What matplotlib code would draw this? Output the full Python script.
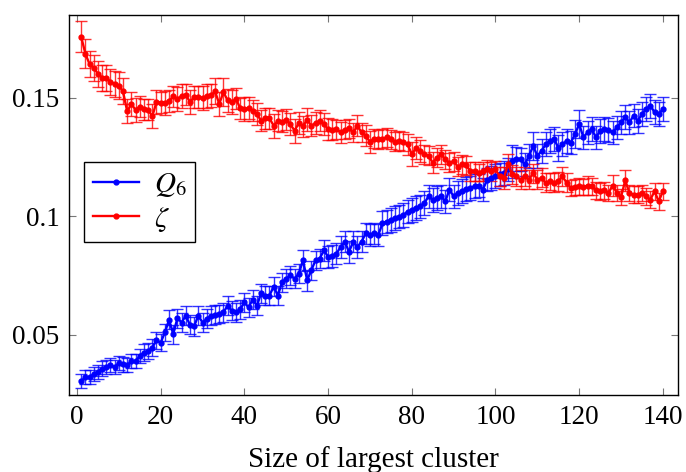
import numpy as np
import matplotlib
matplotlib.use('Agg')
import matplotlib.pyplot as plt
from matplotlib.lines import Line2D

plt.rcParams['font.family'] = ['Liberation Serif', 'DejaVu Serif']
plt.rcParams['mathtext.fontset'] = 'stix'

# cluster size (x) for both series
size = np.arange(1, 141)

# Q6 (blue)
q6 = [0.0304, 0.0321, 0.0321, 0.0335, 0.0344, 0.0358, 0.0364, 0.0372, 0.0364, 0.0382,
      0.0375, 0.0372, 0.0389, 0.0389, 0.0411, 0.0425, 0.0432, 0.0446, 0.0477, 0.0467,
      0.0510, 0.0563, 0.0503, 0.0571, 0.0552, 0.0581, 0.0542, 0.0537, 0.0581, 0.0552,
      0.0567, 0.0581, 0.0584, 0.0588, 0.0595, 0.0623, 0.0602, 0.0595, 0.0609, 0.0637,
      0.0616, 0.0649, 0.0623, 0.0676, 0.0666, 0.0666, 0.0704, 0.0666, 0.0722, 0.0737,
      0.0751, 0.0737, 0.0758, 0.0815, 0.0730, 0.0772, 0.0815, 0.0822, 0.0857, 0.0829,
      0.0832, 0.0843, 0.0871, 0.0893, 0.0850, 0.0893, 0.0871, 0.0893, 0.0929, 0.0921,
      0.0929, 0.0921, 0.0971, 0.0978, 0.0985, 0.0992, 0.0999, 0.1006, 0.1020, 0.1028,
      0.1035, 0.1042, 0.1056, 0.1084, 0.1070, 0.1077, 0.1084, 0.1063, 0.1113, 0.1084,
      0.1099, 0.1106, 0.1116, 0.1120, 0.1127, 0.1130, 0.1113, 0.1155, 0.1162, 0.1169,
      0.1177, 0.1184, 0.1198, 0.1233, 0.1243, 0.1240, 0.1219, 0.1255, 0.1297, 0.1255,
      0.1276, 0.1304, 0.1318, 0.1326, 0.1290, 0.1304, 0.1318, 0.1311, 0.1347, 0.1389,
      0.1333, 0.1354, 0.1368, 0.1333, 0.1361, 0.1368, 0.1365, 0.1354, 0.1375, 0.1396,
      0.1418, 0.1396, 0.1425, 0.1403, 0.1432, 0.1453, 0.1467, 0.1439, 0.1432, 0.1453]
q6_err = [3, 3, 3, 3, 3, 3, 3, 3, 3, 3,
          3, 3, 3, 3, 3, 3.5, 3.5, 3.5, 3.5, 3.5,
          3.5, 4, 4, 4, 4, 4, 4, 4, 4, 4,
          4, 4, 4, 4, 4, 4, 4, 4, 4, 4,
          4, 4, 4, 4, 4, 4, 4, 4, 4, 4,
          4, 4, 4, 4.5, 4.5, 4, 4, 4, 4.5, 4.5,
          4.5, 4.5, 4.5, 4.5, 4.5, 4.5, 4.5, 4.5, 4.5, 4.5,
          4.5, 4.5, 5, 5, 5, 5, 5, 5, 5, 5,
          5, 5, 5, 5, 5, 5, 5, 5, 5, 5,
          5, 5, 5, 5, 5, 5, 5, 5, 5, 5,
          5, 5, 5, 7, 5, 5, 5, 5, 6, 5,
          5, 5, 5, 5, 5.5, 5, 5, 5, 6, 6,
          5, 5, 5, 5, 5, 5, 5, 5, 5, 5,
          5, 5, 5, 5, 5, 5, 5, 5, 5, 5]

# zeta (red)
zeta = [0.1758, 0.1687, 0.1642, 0.1626, 0.1602, 0.1585, 0.1585, 0.1567, 0.1560, 0.1552,
        0.1527, 0.1443, 0.1474, 0.1449, 0.1463, 0.1452, 0.1450, 0.1422, 0.1482, 0.1480,
        0.1479, 0.1486, 0.1506, 0.1496, 0.1507, 0.1513, 0.1482, 0.1503, 0.1503, 0.1500,
        0.1507, 0.1510, 0.1527, 0.1474, 0.1524, 0.1489, 0.1482, 0.1496, 0.1456, 0.1453,
        0.1457, 0.1446, 0.1432, 0.1403, 0.1414, 0.1414, 0.1382, 0.1403, 0.1399, 0.1408,
        0.1389, 0.1361, 0.1394, 0.1380, 0.1408, 0.1382, 0.1394, 0.1403, 0.1389, 0.1368,
        0.1365, 0.1368, 0.1354, 0.1365, 0.1371, 0.1354, 0.1382, 0.1354, 0.1340, 0.1314,
        0.1328, 0.1326, 0.1328, 0.1333, 0.1326, 0.1314, 0.1318, 0.1314, 0.1304, 0.1262,
        0.1288, 0.1276, 0.1262, 0.1255, 0.1226, 0.1248, 0.1262, 0.1240, 0.1226, 0.1233,
        0.1209, 0.1219, 0.1215, 0.1191, 0.1191, 0.1184, 0.1191, 0.1198, 0.1191, 0.1198,
        0.1169, 0.1162, 0.1219, 0.1177, 0.1169, 0.1155, 0.1169, 0.1155, 0.1182, 0.1155,
        0.1162, 0.1141, 0.1148, 0.1141, 0.1148, 0.1169, 0.1141, 0.1120, 0.1124, 0.1127,
        0.1124, 0.1130, 0.1127, 0.1110, 0.1106, 0.1110, 0.1099, 0.1130, 0.1099, 0.1082,
        0.1152, 0.1099, 0.1091, 0.1091, 0.1099, 0.1084, 0.1070, 0.1106, 0.1063, 0.1106]
zeta_err = [6.5, 6, 5.5, 5.5, 5.5, 5.5, 5.5, 5.5, 5.5, 5.5,
            5.5, 5, 5, 5, 4.5, 4.5, 4.5, 5, 5, 4.5,
            5, 4.5, 4.5, 5, 5, 4.5, 5, 4.5, 4.5, 5,
            5, 5, 5.5, 5, 6, 5, 5, 4.5, 4.5, 5,
            4.5, 4.5, 4.5, 4.5, 4.5, 4.5, 5, 4.5, 4.5, 4.5,
            4.5, 5, 4.5, 4.5, 5, 4.5, 4.5, 4.5, 4.5, 4.5,
            4.5, 4, 4.5, 4, 4, 4, 4.5, 4, 4.5, 4.5,
            4, 4, 4, 4, 4, 4, 4, 4, 4.5, 5,
            4.5, 4.5, 4, 4, 4.5, 4, 4, 4, 4, 4,
            4, 4, 4, 4, 4, 3.5, 4, 4, 4, 3.5,
            4, 4.5, 4.5, 4, 4, 4, 4, 4, 4, 4,
            4, 4, 3.5, 4, 4, 4, 4, 3.5, 3.5, 3.5,
            3.5, 4, 3.5, 3.5, 3.5, 3.5, 3.5, 4.5, 3.5, 3.5,
            4.5, 3.5, 3.5, 3.5, 3.5, 3.5, 3.5, 3.5, 3.5, 3.5]

q6_err = np.array(q6_err) * 1e-3
zeta_err = np.array(zeta_err) * 1e-3

fig = plt.figure(figsize=(6.86, 4.72), dpi=100)
ax = fig.add_axes([0.1006, 0.163, 0.8877, 0.8055])

ax.errorbar(size, q6, yerr=q6_err, fmt='-o', color='#0000ff', ms=3.5, lw=1.7,
            ecolor=(0, 0, 1, 0.8), elinewidth=1, capsize=4.2, capthick=1)
ax.errorbar(size, zeta, yerr=zeta_err, fmt='-o', color='#ff0000', ms=3.5, lw=1.7,
            ecolor=(1, 0, 0, 0.8), elinewidth=1, capsize=4.2, capthick=1)

ax.set_xlim(-1.9, 143.6)
ax.set_ylim(0.0246, 0.185)
ax.set_xticks([0, 20, 40, 60, 80, 100, 120, 140])
ax.set_yticks([0.05, 0.1, 0.15])
ax.set_yticklabels(['0.05', '0.1', '0.15'])
ax.tick_params(direction='in', top=True, right=True, length=5, width=0.8,
               color='#777777', labelsize=19.5, pad=7)
for s in ax.spines.values():
    s.set_linewidth(1.0)

ax.set_xlabel('Size of largest cluster', fontsize=21, labelpad=12)

handles = [Line2D([], [], color='#0000ff', lw=1.7, marker='o', ms=3.5),
           Line2D([], [], color='#ff0000', lw=1.7, marker='o', ms=3.5)]
leg = ax.legend(handles, [r'$Q_6$', r'$\zeta$'], loc='upper left',
                bbox_to_anchor=(0.0246, 0.613), borderaxespad=0,
                fontsize=21, fancybox=False, edgecolor='black', framealpha=1,
                handlelength=1.6, handletextpad=0.5, borderpad=0.3, labelspacing=0.2)
leg.get_frame().set_linewidth(1.0)

fig.savefig('out.png', dpi=100)
